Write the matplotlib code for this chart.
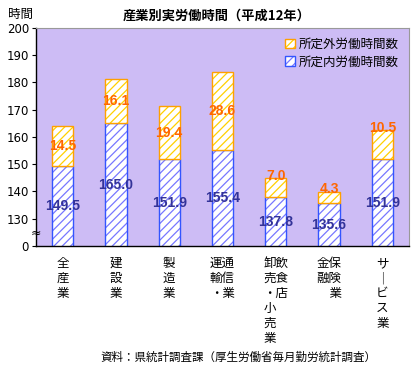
import matplotlib.pyplot as plt
from matplotlib.patches import Patch

plt.rcParams['font.family'] = ['Noto Sans CJK JP', 'DejaVu Sans']

# 産業別実労働時間（平成12年）
categories = ['全\n産\n業', '建\n設\n業', '製\n造\n業', '運通\n輸信\n・業',
              '卸飲\n売食\n・店\n小\n売\n業', '金保\n融険\n\u3000業', 'サ\n｜\nビ\nス\n業']
inner = [149.5, 165.0, 151.9, 155.4, 137.8, 135.6, 151.9]   # 所定内
outer = [14.5, 16.1, 19.4, 28.6, 7.0, 4.3, 10.5]           # 所定外
yticks = [120, 130, 140, 150, 160, 170, 180, 190, 200]
yticklabels = ['0', '130', '140', '150', '160', '170', '180', '190', '200']

blue_edge = '#3355ff'
blue_hatch = '#7777ff'
yel_edge = '#ffa000'
yel_hatch = '#ffd000'

fig = plt.figure(figsize=(4.2, 3.71), dpi=100)
ax = fig.add_axes([0.0857, 0.337, 0.888, 0.5876])
ax.set_facecolor('#cdbcf5')
plt.rcParams['hatch.linewidth'] = 0.9

x = list(range(len(categories)))
w = 0.4
# 所定内
ax.bar(x, inner, w, color='white', edgecolor=blue_hatch, hatch='////', linewidth=0)
ax.bar(x, inner, w, fill=False, edgecolor=blue_edge, linewidth=1.0)
# 所定外
ax.bar(x, outer, w, bottom=inner, color='white', edgecolor=yel_hatch, hatch='////', linewidth=0)
ax.bar(x, outer, w, bottom=inner, fill=False, edgecolor=yel_edge, linewidth=1.0)

ax.set_xlim(-0.5, 6.5)
ax.set_ylim(120, 200)
ax.set_yticks(yticks)
ax.set_yticklabels(yticklabels, family='DejaVu Sans', fontsize=8.5)
ax.tick_params(axis='y', length=3, width=0.8, pad=2)
ax.set_xticks(x)
ax.set_xticklabels(categories, fontsize=9, linespacing=1.2, va='top',
                   multialignment='left')
ax.tick_params(axis='x', length=0, pad=8)

for s in ['top', 'right']:
    ax.spines[s].set_color('#999999')
    ax.spines[s].set_linewidth(0.8)
for s in ['left', 'bottom']:
    ax.spines[s].set_linewidth(1.0)

# 値ラベル
for i in x:
    ax.text(i, (120 + inner[i]) / 2, f'{inner[i]:.1f}', ha='center', va='center',
            color='#333399', fontsize=10, fontweight='bold', family='Liberation Sans')
    top = inner[i] + outer[i]
    ly = (inner[i] + top) / 2 if outer[i] > 12 else top + 1
    ax.text(i, ly, f'{outer[i]:.1f}', ha='center', va='center',
            color='#ff6600', fontsize=10, fontweight='bold', family='Liberation Sans')

# 省略記号
ax.text(0, 124.5, '≈', transform=ax.get_yaxis_transform(), ha='center', va='center',
        fontsize=9, family='DejaVu Sans')

h_out = (Patch(facecolor='white', edgecolor=yel_hatch, hatch='////', linewidth=0),
         Patch(fill=False, edgecolor=yel_edge, linewidth=1.0))
h_in = (Patch(facecolor='white', edgecolor=blue_hatch, hatch='////', linewidth=0),
        Patch(fill=False, edgecolor=blue_edge, linewidth=1.0))
ax.legend([h_out, h_in], ['所定外労働時間数', '所定内労働時間数'], loc='upper right',
          frameon=False, fontsize=9, handlelength=0.8, handleheight=0.8,
          handletextpad=0.3, labelspacing=0.35, borderaxespad=0.4)

fig.text(0.517, 0.957, '産業別実労働時間（平成12年）', ha='center', va='center',
         fontsize=9.5, fontweight='bold')
fig.text(0.048, 0.962, '時間', ha='center', va='center', fontsize=9)
fig.text(0.567, 0.038, '資料：県統計調査課（厚生労働省毎月勤労統計調査）', ha='center',
         va='center', fontsize=8.3)

fig.savefig('out.png', dpi=100)
